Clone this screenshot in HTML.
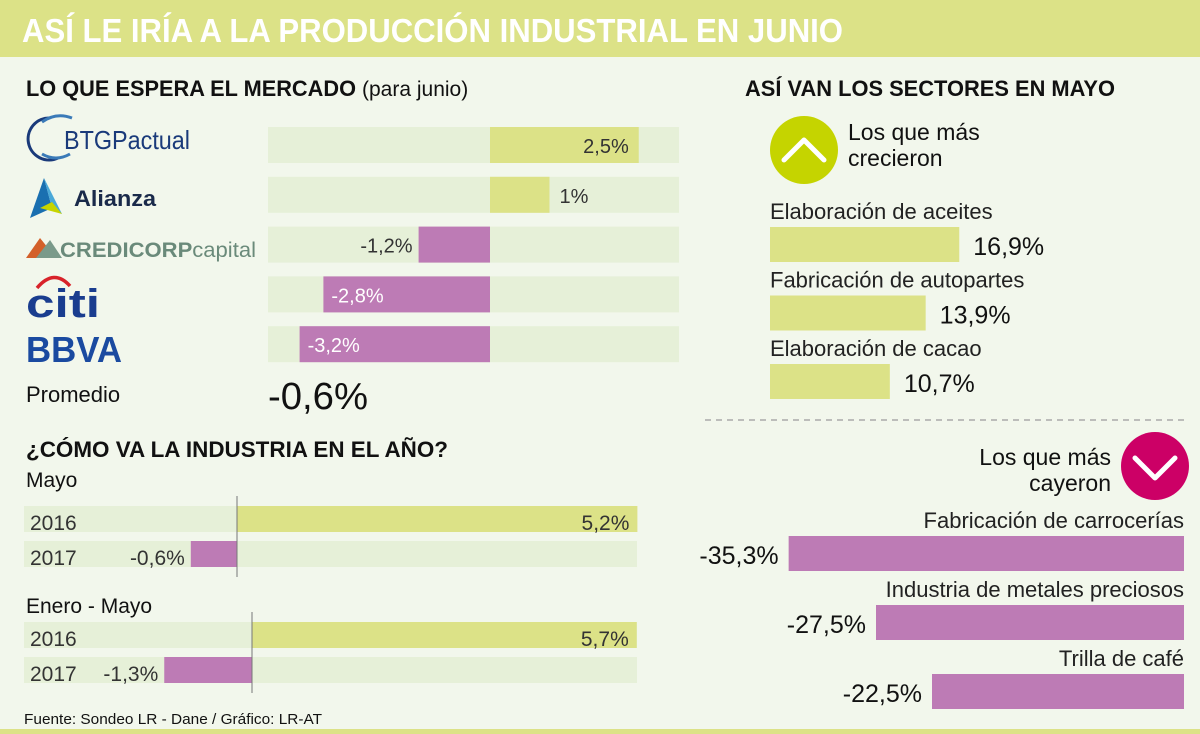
<!DOCTYPE html>
<html><head><meta charset="utf-8">
<style>
html,body{margin:0;padding:0;background:#f2f7ec;}
svg{display:block;font-family:"Liberation Sans",sans-serif;}
</style></head>
<body>
<svg id="chart" width="1200" height="734" viewBox="0 0 1200 734">
<rect x="0" y="0" width="1200" height="734" fill="#f2f7ec"/>
<rect x="0" y="0" width="1200" height="57" fill="#dce287"/>
<text x="22" y="42" font-size="33" font-weight="bold" fill="#fff" textLength="821" lengthAdjust="spacingAndGlyphs">ASÍ LE IRÍA A LA PRODUCCIÓN INDUSTRIAL EN JUNIO</text>
<rect x="0" y="729" width="1200" height="5" fill="#dce287"/>

<text x="26" y="96" font-size="22" fill="#111"><tspan font-weight="bold" textLength="330" lengthAdjust="spacingAndGlyphs">LO QUE ESPERA EL MERCADO</tspan><tspan dx="6" font-size="21">(para junio)</tspan></text>
<text x="745" y="96" font-size="22" font-weight="bold" fill="#111" textLength="370" lengthAdjust="spacingAndGlyphs">ASÍ VAN LOS SECTORES EN MAYO</text>
<text x="26" y="457" font-size="22" font-weight="bold" fill="#111" textLength="422" lengthAdjust="spacingAndGlyphs">¿CÓMO VA LA INDUSTRIA EN EL AÑO?</text>

<!-- logos -->
<g>
<path d="M50,118 A21,21 0 1 0 58,158" fill="none" stroke="#1a3a7a" stroke-width="3"/>
<path d="M42,122 Q56,112 72,118" fill="none" stroke="#3a7ab8" stroke-width="3"/>
<path d="M42,154 Q56,162 70,154" fill="none" stroke="#3a7ab8" stroke-width="3"/>
<text x="64" y="149" font-size="26" fill="#1a3a7a" textLength="126" lengthAdjust="spacingAndGlyphs">BTGPactual</text>
</g>
<g>
<polygon points="44,178 30,218 52,208" fill="#1a6fb0"/>
<polygon points="44,178 52,208 62,214" fill="#4aa8d8"/>
<polygon points="40,208 62,214 52,202" fill="#c7d400"/>
<text x="74" y="206" font-size="22" font-weight="bold" fill="#1a2a4a" textLength="82" lengthAdjust="spacingAndGlyphs">Alianza</text>
</g>
<g>
<polygon points="26,258 40,238 56,258" fill="#d3602a"/>
<polygon points="36,258 50,240 62,258" fill="#7a9a8a"/>
<text x="60" y="257" font-size="21" fill="#6a8a7a" textLength="196" lengthAdjust="spacingAndGlyphs"><tspan font-weight="bold">CREDICORP</tspan>capital</text>
</g>
<g>
<path d="M37,288 Q54,268 70,286" fill="none" stroke="#d8232a" stroke-width="3.5"/>
<text x="26" y="317" font-size="40" font-weight="bold" fill="#1a3d8f" textLength="74" lengthAdjust="spacingAndGlyphs">citi</text>
</g>
<text x="26" y="362" font-size="36" font-weight="bold" fill="#1a4aa0" textLength="96" lengthAdjust="spacingAndGlyphs">BBVA</text>

<text x="26" y="402" font-size="22" fill="#111">Promedio</text>
<text x="268" y="409" font-size="38" fill="#111" textLength="100" lengthAdjust="spacingAndGlyphs">-0,6%</text>

<text x="26" y="487" font-size="21" fill="#111">Mayo</text>
<text x="26" y="613" font-size="21" fill="#111">Enero - Mayo</text>
<text x="24" y="724" font-size="15" fill="#111" textLength="298" lengthAdjust="spacingAndGlyphs">Fuente: Sondeo LR - Dane / Gráfico: LR-AT</text>

<!-- up/down headers -->
<circle cx="804" cy="150" r="34" fill="#c5d400"/>
<polyline points="784,160 804,140 824,160" fill="none" stroke="#fff" stroke-width="5" stroke-linecap="round" stroke-linejoin="round"/>
<text x="848" y="140" font-size="23" fill="#111">Los que más</text>
<text x="848" y="166" font-size="23" fill="#111">crecieron</text>
<line x1="705" y1="420" x2="1185" y2="420" stroke="#aaa" stroke-width="1.5" stroke-dasharray="6,5"/>
<circle cx="1155" cy="466" r="34" fill="#cc0066"/>
<polyline points="1135,458 1155,478 1175,458" fill="none" stroke="#fff" stroke-width="5" stroke-linecap="round" stroke-linejoin="round"/>
<text x="1111" y="465" font-size="23" fill="#111" text-anchor="end">Los que más</text>
<text x="1111" y="491" font-size="23" fill="#111" text-anchor="end">cayeron</text>
<g id="marks"></g>
</svg>
<script>
const banks = ['BTG Pactual','Alianza','Credicorp Capital','Citi','BBVA'];
const bankValues = [2.5, 1, -1.2, -2.8, -3.2];
const bankLabels = ['2,5%','1%','-1,2%','-2,8%','-3,2%'];

const yearCats = ['2016','2017'];
const mayoValues = [5.2, -0.6];
const mayoLabels = ['5,2%','-0,6%'];
const eneMayoValues = [5.7, -1.3];
const eneMayoLabels = ['5,7%','-1,3%'];

const upSectors = ['Elaboración de aceites','Fabricación de autopartes','Elaboración de cacao'];
const upValues = [16.9, 13.9, 10.7];
const upLabels = ['16,9%','13,9%','10,7%'];
const downSectors = ['Fabricación de carrocerías','Industria de metales preciosos','Trilla de café'];
const downValues = [-35.3, -27.5, -22.5];
const downLabels = ['-35,3%','-27,5%','-22,5%'];

const NS='http://www.w3.org/2000/svg';
const g=document.getElementById('marks');
const GREEN='#dce287', PURPLE='#bd7bb5', TRACK='#e6f0d8';
function mk(tag,at,txt){const e=document.createElementNS(NS,tag);for(const k in at)e.setAttribute(k,at[k]);if(txt!==undefined)e.textContent=txt;g.appendChild(e);return e;}

// market chart
const mZero=490, mScale=59.5;
function mx(v){return mZero+v*mScale;}
banks.forEach((b,i)=>{
  const y=127+i*49.8, h=36, v=bankValues[i];
  const t=mk('rect',{x:268,y:y,width:411,height:h,fill:TRACK});
  
  
  const x0=Math.min(mx(0),mx(v)), w=Math.abs(mx(v)-mx(0));
  const r=mk('rect',{x:x0,y:y,width:w,height:h,fill:v>=0?GREEN:PURPLE});
  
  
  let tx,anchor,fill;
  if(v>=0){ if(w>100){tx=mx(v)-10;anchor='end';fill='#333';} else {tx=mx(v)+10;anchor='start';fill='#333';} }
  else { if(w>100){tx=mx(v)+8;anchor='start';fill='#fff';} else {tx=mx(v)-6;anchor='end';fill='#333';} }
  const l=mk('text',{x:tx,y:y+26,'font-size':20,fill:fill,'text-anchor':anchor},bankLabels[i]);
  
  
});

// industry charts
function yearChart(vals,labels,zero,scale,top){
  yearCats.forEach((c,i)=>{
    const y=top+i*35, h=26, v=vals[i];
    const t=mk('rect',{x:24,y:y,width:613,height:h,fill:TRACK});
    
    
    const xv=zero+v*scale, x0=Math.min(zero,xv), w=Math.abs(xv-zero);
    const r=mk('rect',{x:x0,y:y,width:w,height:h,fill:v>=0?GREEN:PURPLE});
    
    
    const cl=mk('text',{x:30,y:y+24,'font-size':21,fill:'#333'},c);
    
    
    const l=mk('text',{x:v>=0?xv-8:xv-6,y:y+24,'font-size':21,fill:'#333','text-anchor':'end'},labels[i]);
    
    
  });
  const ax=mk('line',{x1:zero,y1:top-10,x2:zero,y2:top+71,stroke:'#777','stroke-width':1});
  
  
}
yearChart(mayoValues,mayoLabels,237,77,506);
yearChart(eneMayoValues,eneMayoLabels,252,67.5,622);

// sectors
const sScale=11.2;
upSectors.forEach((s,i)=>{
  const y=227+i*68.5, v=upValues[i], w=v*sScale;
  const n=mk('text',{x:770,y:y-8,'font-size':22,fill:'#222'},s);
  
  
  const r=mk('rect',{x:770,y:y,width:w,height:35,fill:GREEN});
  
  
  const l=mk('text',{x:770+w+14,y:y+28,'font-size':25,fill:'#111'},upLabels[i]);
  
  
});
downSectors.forEach((s,i)=>{
  const y=536+i*69, v=downValues[i], w=-v*sScale, xr=1184;
  const n=mk('text',{x:xr,y:y-8,'font-size':22,fill:'#222','text-anchor':'end'},s);
  
  
  const r=mk('rect',{x:xr-w,y:y,width:w,height:35,fill:PURPLE});
  
  
  const l=mk('text',{x:xr-w-10,y:y+28,'font-size':25,fill:'#111','text-anchor':'end'},downLabels[i]);
  
  
});
</script>
</body></html>
